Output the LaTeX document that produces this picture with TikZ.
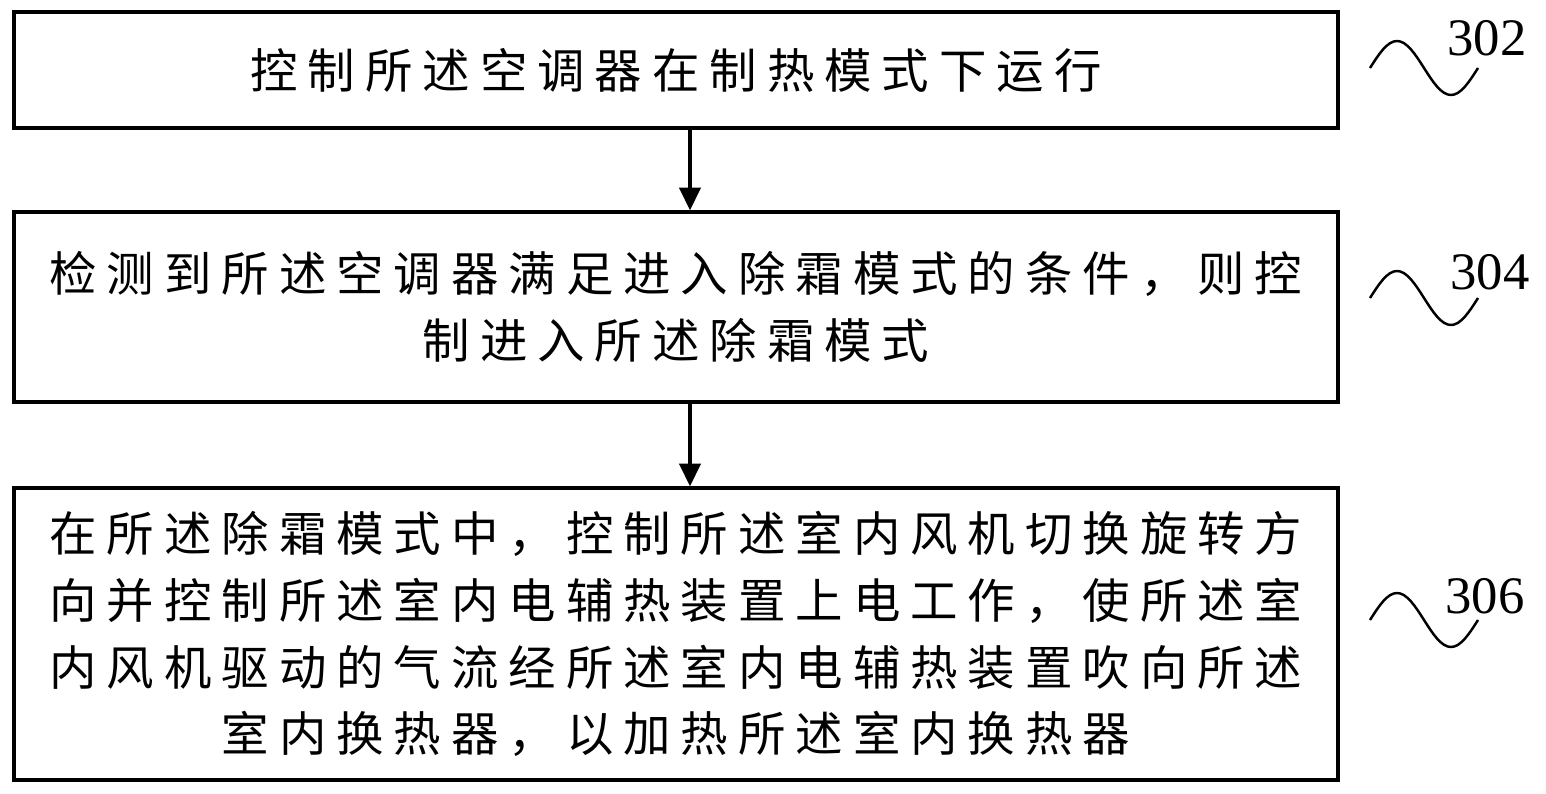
\documentclass[tikz,border=0pt]{standalone}
\usepackage{fontspec}
\usepackage{tikz}
\usetikzlibrary{positioning,arrows.meta}
\newfontfamily\cjk[LetterSpace=21]{Noto Sans CJK SC}
\newfontfamily\numfont{Liberation Serif}
\tikzset{
  stepbox/.style = {draw, line width=1.8pt, rectangle, align=center,
                    font=\cjk\fontsize{27}{38}\selectfont, inner sep=0pt},
  steplabel/.style = {font=\numfont\fontsize{30}{30}\selectfont},
  wave/.style = {line width=1.4pt}
}
\begin{document}
\begin{tikzpicture}[x=0.02cm, y=-0.02cm, >={Triangle[length=13pt,width=12pt]}]
\useasboundingbox (0,0) rectangle (1546,794);

% the three steps
\node[stepbox, minimum width=1324*0.02cm, minimum height=116*0.02cm] (s302) at (676,70)
  {控制所述空调器在制热模式下运行};
\node[stepbox, minimum width=1324*0.02cm, minimum height=190*0.02cm] (s304) at (676,307)
  {检测到所述空调器满足进入除霜模式的条件，则控\\制进入所述除霜模式};
\node[stepbox, minimum width=1324*0.02cm, minimum height=292*0.02cm] (s306) at (676,634)
  {在所述除霜模式中，控制所述室内风机切换旋转方\\向并控制所述室内电辅热装置上电工作，使所述室\\内风机驱动的气流经所述室内电辅热装置吹向所述\\室内换热器，以加热所述室内换热器};

\draw[->, line width=2.2pt] (s302.south -| 690,0) -- (s304.north -| 690,0);
\draw[->, line width=2.2pt] (s304.south -| 690,0) -- (s306.north -| 690,0);

% step numbers with their waves
\node[steplabel] (n302) at (1487,38) {302};
\node[steplabel] (n304) at (1490,272) {304};
\node[steplabel] (n306) at (1485,596) {306};
\foreach \n/\y in {302/68, 304/298, 306/620} {
  \draw[wave] (1370,\y) sin (1397,\y-27) cos (1424,\y) sin (1451,\y+27) cos (1478,\y);
}
\end{tikzpicture}
\end{document}
